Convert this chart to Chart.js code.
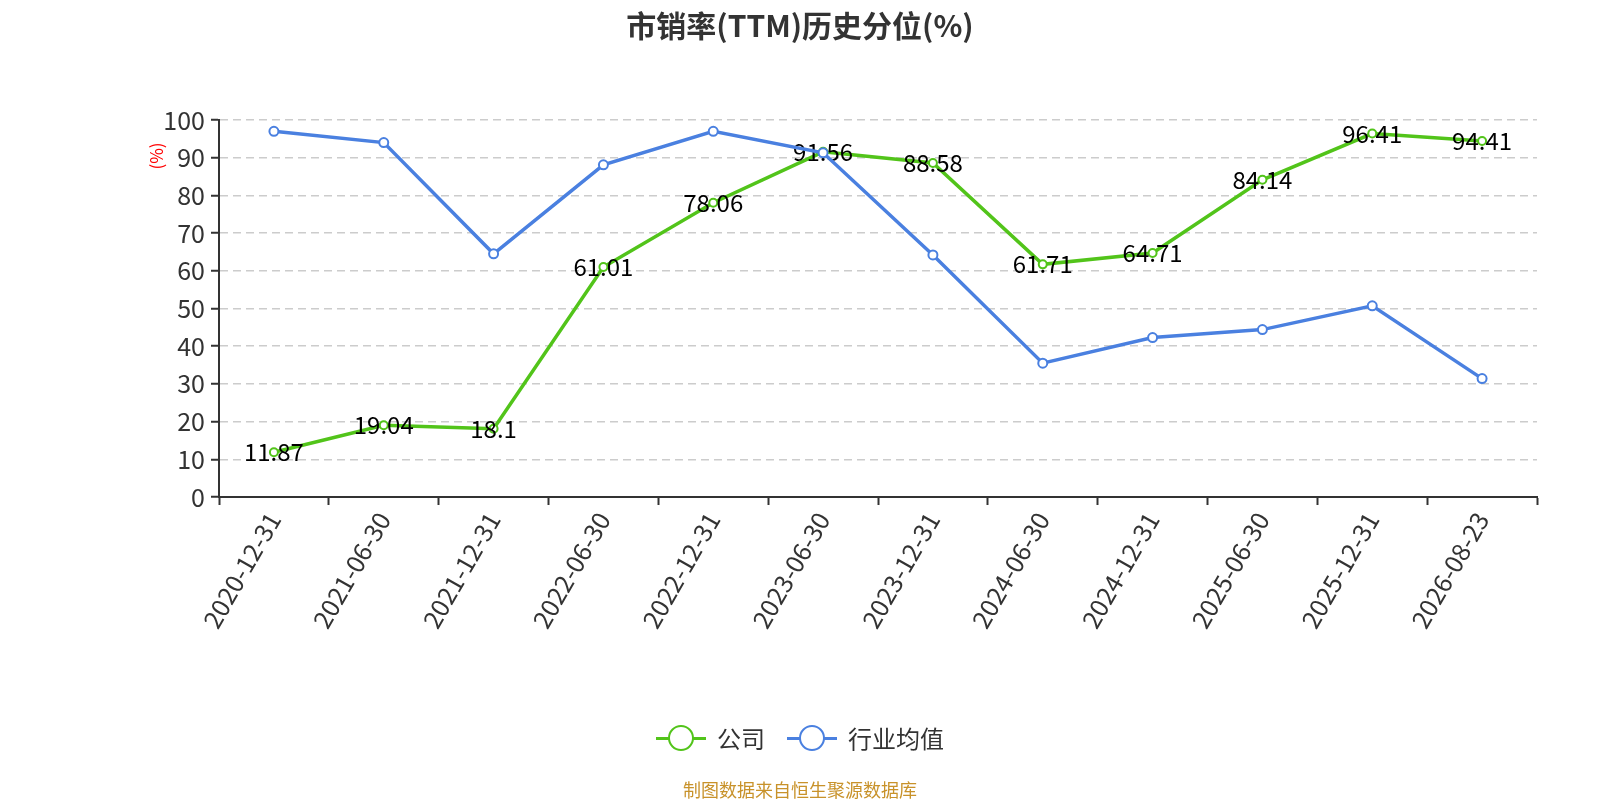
<!DOCTYPE html>
<html>
<head>
<meta charset="utf-8">
<script src="https://cdn.jsdelivr.net/npm/chart.js@4"></script>
<style>
  body { margin: 0; background: #fff; font-family: "Noto Sans CJK SC", "Noto Sans", sans-serif; }
  #wrap { position: relative; width: 1600px; height: 800px; overflow: hidden; }
  #title { position: absolute; left: 0; width: 1600px; top: 8px; line-height: 32px; text-align: center;
           font-size: 30px; font-weight: bold; color: #333; }
  #unit { position: absolute; left: 142px; top: 146px; width: 28px; line-height: 20px; text-align: center;
          color: red; font-size: 17px; transform: rotate(-90deg); }
  #legend { position: absolute; left: 0; width: 1600px; top: 723px; height: 30px;
            display: flex; justify-content: center; align-items: center;
            font-size: 24px; line-height: 30px; color: #333; }
  .item { display: flex; align-items: center; margin: 0 11px; }
  .icon { position: relative; width: 50px; height: 28px; margin-right: 11px; }
  .icon .ln { position: absolute; left: 0; right: 0; top: 13px; height: 2.5px; }
  .icon .dot { position: absolute; left: 12px; top: 1px; width: 22px; height: 22px; border-radius: 50%;
               background: #fff; border: 2.5px solid; }
  #footer { position: absolute; left: 0; width: 1600px; top: 778px; line-height: 22px; text-align: center;
            font-size: 18px; color: #c8922a; }
</style>
</head>
<body>
<div id="wrap">
  <canvas id="chart" width="1600" height="800"></canvas>
  <div id="title">市销率(TTM)历史分位(%)</div>
  <div id="unit">(%)</div>
  <div id="legend">
    <span class="item"><span class="icon"><span class="ln" style="background:#52c41a"></span><span class="dot" style="border-color:#52c41a"></span></span>公司</span>
    <span class="item"><span class="icon"><span class="ln" style="background:#4a80e0"></span><span class="dot" style="border-color:#4a80e0"></span></span>行业均值</span>
  </div>
  <div id="footer">制图数据来自恒生聚源数据库</div>
</div>
<script>
const dates = ['2020-12-31', '2021-06-30', '2021-12-31', '2022-06-30', '2022-12-31', '2023-06-30',
               '2023-12-31', '2024-06-30', '2024-12-31', '2025-06-30', '2025-12-31', '2026-08-23'];
const company = [11.87, 19.04, 18.1, 61.01, 78.06, 91.56, 88.58, 61.71, 64.71, 84.14, 96.41, 94.41];
const industry = [97.0, 94.0, 64.5, 88.1, 97.0, 91.3, 64.2, 35.5, 42.3, 44.4, 50.7, 31.4];

const green = '#52c41a';
const blue = '#4a80e0';
const font = '"Noto Sans CJK SC", "Noto Sans", sans-serif';

// value labels centred on the company points, drawn right after that line
const pointLabels = {
    id: 'pointLabels',
    afterDatasetDraw(chart, args) {
        if (args.index !== 0) return;
        const ctx = chart.ctx;
        ctx.save();
        ctx.font = '24px ' + font;
        ctx.fillStyle = '#000';
        ctx.textAlign = 'center';
        ctx.textBaseline = 'middle';
        args.meta.data.forEach((pt, i) => {
            ctx.fillText(String(company[i]), pt.x, pt.y);
        });
        ctx.restore();
    }
};

new Chart(document.getElementById('chart'), {
    type: 'line',
    data: {
        labels: dates,
        datasets: [
            {
                label: '公司',
                data: company,
                order: 1,
                borderColor: green,
                borderWidth: 3.5,
                pointRadius: 4,
                pointBorderWidth: 2,
                pointBackgroundColor: '#fff',
                pointBorderColor: green,
                tension: 0
            },
            {
                label: '行业均值',
                data: industry,
                order: 0,
                borderColor: blue,
                borderWidth: 3.5,
                pointRadius: 4.5,
                pointBorderWidth: 2,
                pointBackgroundColor: '#fff',
                pointBorderColor: blue,
                tension: 0
            }
        ]
    },
    options: {
        responsive: false,
        animation: false,
        layout: { padding: { top: 120, right: 63, left: 0, bottom: 0 } },
        plugins: {
            legend: { display: false },
            tooltip: { enabled: false }
        },
        scales: {
            x: {
                offset: true,
                grid: { offset: true, drawOnChartArea: false, tickLength: 8, tickColor: '#333', tickWidth: 2 },
                border: { color: '#333', width: 2 },
                ticks: { color: '#333', font: { size: 25, family: font }, minRotation: 60, maxRotation: 60, padding: 2 },
                afterFit(scale) { scale.height = 303; }
            },
            y: {
                min: 0,
                max: 100,
                ticks: { stepSize: 10, color: '#333', font: { size: 25, family: font }, padding: 6 },
                grid: { color: '#ccc', lineWidth: 1.5, tickLength: 8, tickColor: '#333', tickWidth: 2 },
                border: { color: '#333', width: 2, dash: [8, 5] },
                afterFit(scale) { scale.width = 219; }
            }
        }
    },
    plugins: [pointLabels]
});
</script>
</body>
</html>
